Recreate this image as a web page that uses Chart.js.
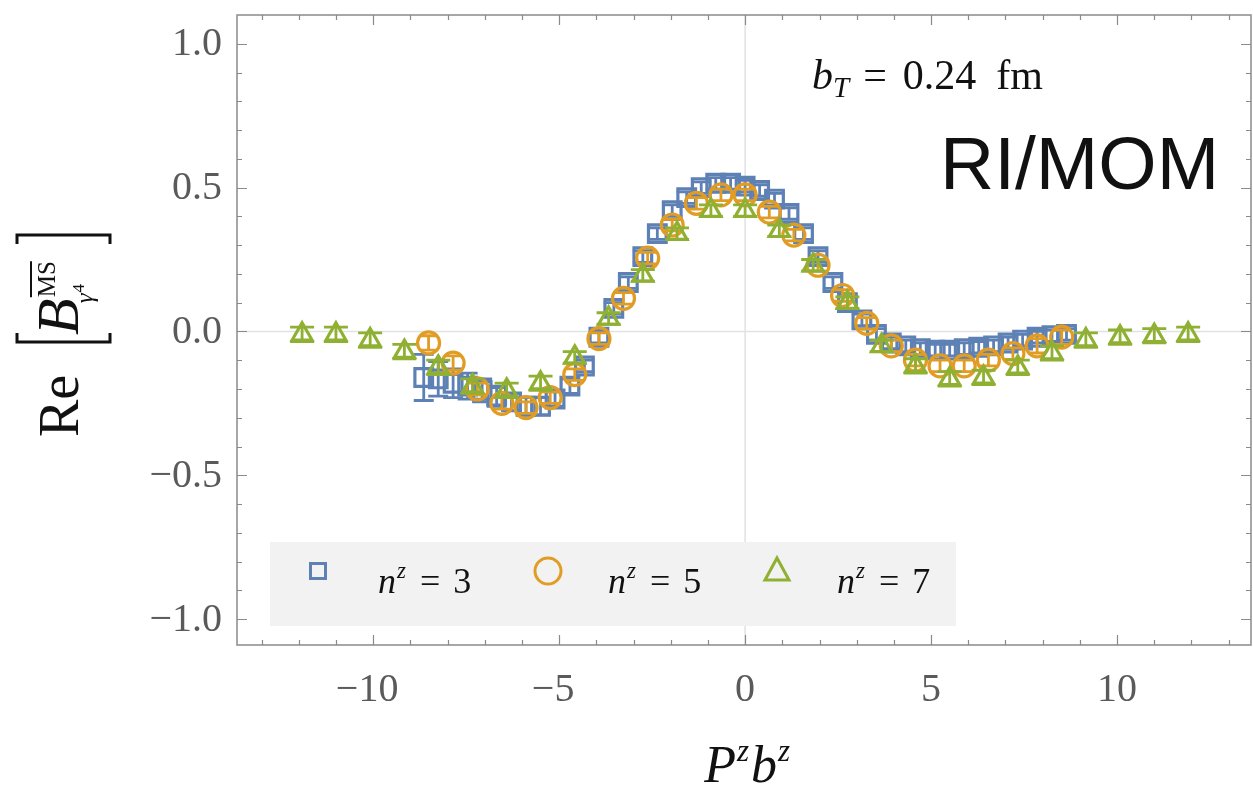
<!DOCTYPE html>
<html>
<head>
<meta charset="utf-8">
<title>RI/MOM</title>
<script src="https://cdn.jsdelivr.net/npm/chart.js@4"></script>
<style>
    html, body { margin: 0; padding: 0; background: #fff; }
    #chart { display: block; }
</style>
</head>
<body>
<canvas id="chart" width="1253" height="787"></canvas>
<script>
// P^z b^z positions for each momentum
const xN3 = [-8.64, -8.25, -7.85, -7.46, -7.07, -6.68, -6.28, -5.89, -5.50, -5.11, -4.71, -4.32, -3.93, -3.53, -3.14,
    -2.75, -2.36, -1.96, -1.57, -1.18, -0.79, -0.39, 0, 0.39, 0.79, 1.18, 1.57, 1.96, 2.36, 2.75,
    3.14, 3.53, 3.93, 4.32, 4.71, 5.11, 5.50, 5.89, 6.28, 6.68, 7.07, 7.46, 7.85, 8.25, 8.64];
const xN5 = [-8.51, -7.85, -7.20, -6.54, -5.89, -5.24, -4.58, -3.93, -3.27, -2.62, -1.96, -1.31, -0.65, 0,
    0.65, 1.31, 1.96, 2.62, 3.27, 3.93, 4.58, 5.24, 5.89, 6.54, 7.20, 7.85, 8.51];
const xN7 = [-11.91, -11.00, -10.08, -9.16, -8.25, -7.33, -6.41, -5.50, -4.58, -3.67, -2.75, -1.83, -0.92, 0,
    0.92, 1.83, 2.75, 3.67, 4.58, 5.50, 6.41, 7.33, 8.25, 9.16, 10.08, 11.00, 11.91];

// Re[B] values
const yN3 = [-0.16, -0.165, -0.18, -0.19, -0.205, -0.225, -0.245, -0.26, -0.26, -0.235, -0.19, -0.12, -0.02, 0.08, 0.17,
    0.26, 0.34, 0.42, 0.465, 0.50, 0.515, 0.515, 0.505, 0.49, 0.46, 0.41, 0.34, 0.26, 0.17, 0.10,
    0.04, -0.01, -0.04, -0.05, -0.06, -0.065, -0.065, -0.06, -0.055, -0.05, -0.04, -0.03, -0.02, -0.015, -0.01];
const yN5 = [-0.04, -0.11, -0.20, -0.25, -0.265, -0.23, -0.15, -0.025, 0.115, 0.255, 0.37, 0.445, 0.475, 0.475,
    0.415, 0.335, 0.23, 0.125, 0.028, -0.05, -0.10, -0.12, -0.12, -0.10, -0.077, -0.05, -0.02];
const yN7 = [-0.01, -0.01, -0.03, -0.07, -0.125, -0.19, -0.205, -0.18, -0.09, 0.045, 0.195, 0.34, 0.42, 0.42,
    0.35, 0.23, 0.10, -0.05, -0.12, -0.165, -0.16, -0.125, -0.075, -0.03, -0.02, -0.015, -0.01];

// error bars
const errN3 = [0.08, 0.06, 0.05, 0.045, 0.04, 0.035, 0.03, 0.03, 0.03, 0.025, 0.025, 0.02, 0.02, 0.02, 0.02,
    0.02, 0.02, 0.02, 0.02, 0.02, 0.02, 0.02, 0.02, 0.02, 0.02, 0.02, 0.02, 0.02, 0.02, 0.02,
    0.02, 0.02, 0.02, 0.02, 0.02, 0.02, 0.02, 0.02, 0.02, 0.02, 0.02, 0.02, 0.02, 0.02, 0.02];
const errN5 = [0.025, 0.025, 0.02, 0.02, 0.02, 0.02, 0.02, 0.02, 0.02, 0.02, 0.02, 0.02, 0.02, 0.02,
    0.02, 0.02, 0.02, 0.02, 0.02, 0.02, 0.02, 0.02, 0.02, 0.02, 0.02, 0.025, 0.025];
const errN7 = [0.025, 0.025, 0.025, 0.025, 0.025, 0.025, 0.025, 0.025, 0.02, 0.02, 0.02, 0.02, 0.02, 0.02,
    0.02, 0.02, 0.02, 0.02, 0.025, 0.025, 0.025, 0.025, 0.025, 0.025, 0.025, 0.025, 0.025];

const seriesLabels = ['n^z = 3', 'n^z = 5', 'n^z = 7'];
const xTicks = [-10, -5, 0, 5, 10];
const yTicks = [-1.0, -0.5, 0.0, 0.5, 1.0];

const BLUE = '#5E81B5';
const ORANGE = '#E19C24';
const GREEN = '#8FB032';
const SERIF = '"Liberation Serif", "DejaVu Serif", serif';

function toPoints(xs, ys) {
    return xs.map((x, i) => ({ x: x, y: ys[i] }));
}

// write a row of text pieces (italic, super/subscripts) one after another
function drawRuns(ctx, runs, x, y) {
    runs.forEach(r => {
        ctx.font = r.font;
        ctx.fillText(r.t, x, y + (r.dy || 0));
        x += ctx.measureText(r.t).width + (r.gap || 0);
    });
    return x;
}

function runsWidth(ctx, runs) {
    let w = 0;
    runs.forEach(r => {
        ctx.font = r.font;
        w += ctx.measureText(r.t).width + (r.gap || 0);
    });
    return w;
}

function minusSign(v, digits) {
    const s = Math.abs(v).toFixed(digits);
    return v < 0 ? '\u2212' + s : s;
}

document.addEventListener('DOMContentLoaded', () => {

    const errs = [errN3, errN5, errN7];
    const caps = [10, 9, 12];

    // Error bars go under each series' markers
    const errorBars = {
        id: 'errorBars',
        beforeDatasetDraw(chart, args) {
            const ds = chart.data.datasets[args.index];
            const err = errs[args.index];
            const { ctx, chartArea, scales: { x, y } } = chart;
            ctx.save();
            ctx.beginPath();
            ctx.rect(chartArea.left, chartArea.top, chartArea.right - chartArea.left, chartArea.bottom - chartArea.top);
            ctx.clip();
            ctx.strokeStyle = ds.borderColor;
            ctx.lineWidth = 2.8;
            ds.data.forEach((p, i) => {
                const px = x.getPixelForValue(p.x);
                const top = y.getPixelForValue(p.y + err[i]);
                const bot = y.getPixelForValue(p.y - err[i]);
                const c = caps[args.index];
                ctx.beginPath();
                ctx.moveTo(px, top); ctx.lineTo(px, bot);
                ctx.moveTo(px - c, top); ctx.lineTo(px + c, top);
                ctx.moveTo(px - c, bot); ctx.lineTo(px + c, bot);
                ctx.stroke();
            });
            ctx.restore();
        }
    };

    // Frame, zero lines, inward ticks and tick labels
    const frame = {
        id: 'frame',
        beforeDatasetsDraw(chart) {
            const { ctx, chartArea: a, scales: { x, y } } = chart;
            ctx.save();
            ctx.strokeStyle = '#e2e2e2';
            ctx.lineWidth = 1.5;
            ctx.beginPath();
            ctx.moveTo(x.getPixelForValue(0), a.top); ctx.lineTo(x.getPixelForValue(0), a.bottom);
            ctx.moveTo(a.left, y.getPixelForValue(0)); ctx.lineTo(a.right, y.getPixelForValue(0));
            ctx.stroke();
            ctx.restore();
        },
        afterDraw(chart) {
            const { ctx, chartArea: a, scales: { x, y } } = chart;
            ctx.save();
            ctx.strokeStyle = '#8a8a8a';
            ctx.lineWidth = 1.5;
            ctx.strokeRect(a.left, a.top, a.right - a.left, a.bottom - a.top);

            ctx.lineWidth = 1.2;
            ctx.beginPath();
            for (let v = -13; v <= 13; v++) {
                const px = Math.round(x.getPixelForValue(v)) + 0.5;
                const len = v % 5 === 0 ? 10 : 5;
                ctx.moveTo(px, a.bottom); ctx.lineTo(px, a.bottom - len);
                ctx.moveTo(px, a.top); ctx.lineTo(px, a.top + len);
            }
            for (let k = -10; k <= 10; k++) {
                const py = Math.round(y.getPixelForValue(k / 10)) + 0.5;
                const len = k % 5 === 0 ? 10 : 5;
                ctx.moveTo(a.left, py); ctx.lineTo(a.left + len, py);
                ctx.moveTo(a.right, py); ctx.lineTo(a.right - len, py);
            }
            ctx.stroke();

            // tick labels
            ctx.fillStyle = '#5a5a5a';
            ctx.font = '40px ' + SERIF;
            ctx.textAlign = 'right';
            ctx.textBaseline = 'middle';
            yTicks.forEach(v => ctx.fillText(minusSign(v, 1), a.left - 15, y.getPixelForValue(v) + 1));
            ctx.textAlign = 'center';
            ctx.textBaseline = 'alphabetic';
            xTicks.forEach(v => ctx.fillText(minusSign(v, 0), x.getPixelForValue(v) - (v < 0 ? 6 : 0), 701));
            ctx.restore();

            drawLabels(chart);
        }
    };

    function drawLabels(chart) {
        const { ctx, scales: { x } } = chart;
        ctx.save();
        ctx.fillStyle = '#111';
        ctx.textAlign = 'left';
        ctx.textBaseline = 'alphabetic';

        // x axis title P^z b^z
        const xRuns = [
            { t: 'P', font: 'italic 52px ' + SERIF, gap: 1 },
            { t: 'z', font: 'italic 31px ' + SERIF, dy: -21, gap: 2 },
            { t: 'b', font: 'italic 52px ' + SERIF, gap: 1 },
            { t: 'z', font: 'italic 31px ' + SERIF, dy: -21 }
        ];
        const w = runsWidth(ctx, xRuns);
        drawRuns(ctx, xRuns, x.getPixelForValue(0) - w / 2 + 2, 782);

        // y axis title Re[ B^MS_γ4 ]
        ctx.save();
        ctx.translate(78, 437);
        ctx.rotate(-Math.PI / 2);
        drawRuns(ctx, [{ t: 'Re', font: '56px ' + SERIF }], 0, 0);
        ctx.strokeStyle = '#111';
        ctx.lineWidth = 3;
        ctx.beginPath();
        ctx.moveTo(104, -61); ctx.lineTo(95, -61); ctx.lineTo(95, 32); ctx.lineTo(104, 32);
        ctx.moveTo(193, -61); ctx.lineTo(202, -61); ctx.lineTo(202, 32); ctx.lineTo(193, 32);
        ctx.stroke();
        const bx = drawRuns(ctx, [{ t: 'B', font: 'italic 60px ' + SERIF }], 102, 0);
        ctx.font = '25px ' + SERIF;
        const msW = ctx.measureText('MS').width;
        ctx.fillText('MS', bx + 1, -23);
        ctx.lineWidth = 2;
        ctx.beginPath();
        ctx.moveTo(bx + 1, -47); ctx.lineTo(bx + 1 + msW, -47);
        ctx.stroke();
        drawRuns(ctx, [
            { t: '\u03b3', font: 'italic 25px ' + SERIF, gap: 1 },
            { t: '4', font: '17px ' + SERIF, dy: -9 }
        ], bx - 5, 15);
        ctx.restore();

        // b_T = 0.24 fm
        drawRuns(ctx, [
            { t: 'b', font: 'italic 42px ' + SERIF },
            { t: 'T', font: 'italic 29px ' + SERIF, dy: 8, gap: 14 },
            { t: '=', font: '42px ' + SERIF, gap: 16 },
            { t: '0.24', font: '42px ' + SERIF, gap: 20 },
            { t: 'fm', font: '42px ' + SERIF }
        ], 812, 89);

        // scheme tag
        ctx.font = '75px "Liberation Sans", Arial, sans-serif';
        ctx.fillText('RI/MOM', 940, 189);

        // legend
        ctx.fillStyle = '#f2f2f2';
        ctx.fillRect(270, 542, 686, 84);
        const markerX = [318, 548, 777];
        const colors = [BLUE, ORANGE, GREEN];
        ctx.lineWidth = 3;
        markerX.forEach((mx, i) => {
            const my = 571;
            ctx.strokeStyle = colors[i];
            ctx.beginPath();
            if (i === 0) {
                ctx.rect(mx - 7.5, my - 7.5, 15, 15);
            } else if (i === 1) {
                ctx.arc(mx, my, 13, 0, Math.PI * 2);
            } else {
                ctx.moveTo(mx, my - 13); ctx.lineTo(mx + 12, my + 9); ctx.lineTo(mx - 12, my + 9); ctx.closePath();
            }
            ctx.stroke();
            const num = seriesLabels[i].split('= ')[1];
            ctx.fillStyle = '#111';
            drawRuns(ctx, [
                { t: 'n', font: 'italic 36px ' + SERIF, gap: 1 },
                { t: 'z', font: 'italic 23px ' + SERIF, dy: -15, gap: 14 },
                { t: '=', font: '36px ' + SERIF, gap: 13 },
                { t: num, font: '36px ' + SERIF }
            ], mx + 60, 593);
        });
        ctx.restore();
    }

    const marker = (color, radius) => ({
        borderColor: color,
        backgroundColor: 'rgba(0,0,0,0)',
        pointBorderWidth: 3.2,
        pointRadius: radius,
        pointHoverRadius: radius,
        showLine: false
    });

    const ctx = document.getElementById('chart');
    new Chart(ctx, {
        type: 'scatter',
        data: {
            datasets: [
                Object.assign({ label: seriesLabels[0], data: toPoints(xN3, yN3), pointStyle: 'rect', order: 3 }, marker(BLUE, 12.5)),
                Object.assign({ label: seriesLabels[1], data: toPoints(xN5, yN5), pointStyle: 'circle', order: 2 }, marker(ORANGE, 11)),
                Object.assign({ label: seriesLabels[2], data: toPoints(xN7, yN7), pointStyle: 'triangle', order: 1 }, marker(GREEN, 11.5))
            ]
        },
        options: {
            responsive: false,
            animation: false,
            devicePixelRatio: 1,
            layout: { autoPadding: false, padding: { left: 237, right: 2, top: 15, bottom: 142 } },
            scales: {
                x: { type: 'linear', min: -13.66, max: 13.6, display: false },
                y: { type: 'linear', min: -1.09, max: 1.10, display: false }
            },
            plugins: {
                legend: { display: false },
                tooltip: { enabled: false }
            }
        },
        plugins: [frame, errorBars]
    });
});
</script>
</body>
</html>
